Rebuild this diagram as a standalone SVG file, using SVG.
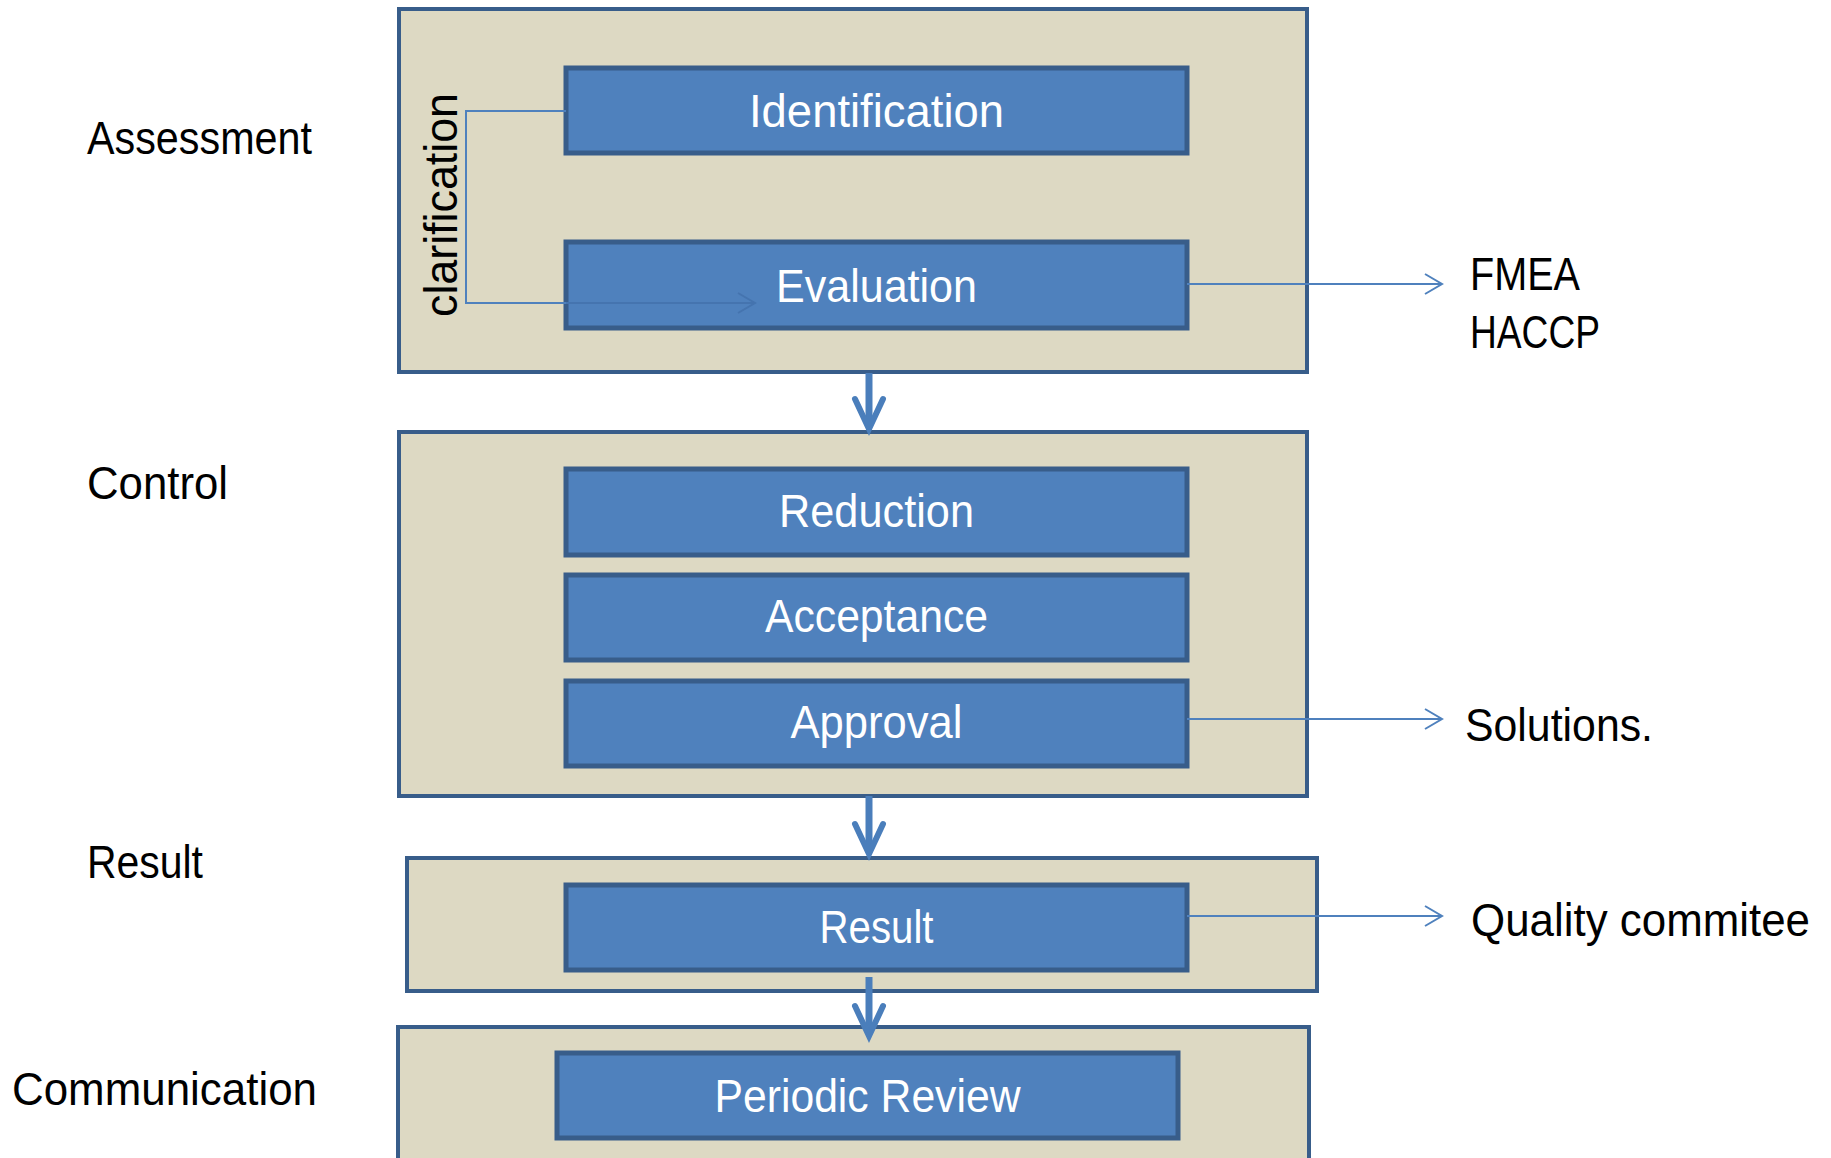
<svg xmlns="http://www.w3.org/2000/svg" width="1831" height="1158" viewBox="0 0 1831 1158">
<style>
.outer{fill:#DDD9C3;stroke:#385D8A;stroke-width:4}
.inner{fill:#4F81BD;stroke:#385D8A;stroke-width:5}
.lbl{font-family:"Liberation Sans",Arial,sans-serif;font-size:47px;fill:#000}
.in{font-family:"Liberation Sans",Arial,sans-serif;font-size:47px;fill:#fff;text-anchor:middle}
.thin{fill:none;stroke:#4F81BD;stroke-width:2}
.over{fill:none;stroke:#4574AF;stroke-width:2}
.thick{fill:none;stroke:#4A7EBB;stroke-width:7}
.head{fill:none;stroke:#4A7EBB;stroke-width:6;stroke-linecap:round;stroke-linejoin:miter}
</style>
<rect width="1831" height="1158" fill="#fff"/>
<g id="labels">
<text class="lbl" x="87" y="154" textLength="225" lengthAdjust="spacingAndGlyphs">Assessment</text>
<text class="lbl" x="87" y="499" textLength="141" lengthAdjust="spacingAndGlyphs">Control</text>
<text class="lbl" x="87" y="878" textLength="116" lengthAdjust="spacingAndGlyphs">Result</text>
<text class="lbl" x="12" y="1105" textLength="305" lengthAdjust="spacingAndGlyphs">Communication</text>
<text class="lbl" x="1470" y="290" textLength="110" lengthAdjust="spacingAndGlyphs">FMEA</text>
<text class="lbl" x="1470" y="348" textLength="130" lengthAdjust="spacingAndGlyphs">HACCP</text>
<text class="lbl" x="1465" y="741" textLength="188" lengthAdjust="spacingAndGlyphs">Solutions.</text>
<text class="lbl" x="1471" y="936" textLength="339" lengthAdjust="spacingAndGlyphs">Quality commitee</text>
</g>
<g id="assessment">
<rect class="outer" x="399" y="9" width="908" height="363"/>
<text transform="translate(457,205) rotate(-90)" font-family="Liberation Sans,Arial,sans-serif" font-size="46" fill="#000" text-anchor="middle" textLength="224" lengthAdjust="spacingAndGlyphs">clarification</text>
</g>
<g id="identification">
<rect class="inner" x="566" y="68" width="621" height="85"/>
<text class="in" x="876.5" y="127" textLength="255" lengthAdjust="spacingAndGlyphs">Identification</text>
</g>
<g id="evaluation">
<rect class="inner" x="566" y="242" width="621" height="86"/>
<text class="in" x="876.5" y="302" textLength="201" lengthAdjust="spacingAndGlyphs">Evaluation</text>
</g>
<g id="control">
<rect class="outer" x="399" y="432" width="908" height="364"/>
</g>
<g id="reduction">
<rect class="inner" x="566" y="469" width="621" height="86"/>
<text class="in" x="876.5" y="527" textLength="195" lengthAdjust="spacingAndGlyphs">Reduction</text>
</g>
<g id="acceptance">
<rect class="inner" x="566" y="575" width="621" height="85"/>
<text class="in" x="876.5" y="632" textLength="223" lengthAdjust="spacingAndGlyphs">Acceptance</text>
</g>
<g id="approval">
<rect class="inner" x="566" y="681" width="621" height="85"/>
<text class="in" x="876.5" y="738" textLength="172" lengthAdjust="spacingAndGlyphs">Approval</text>
</g>
<g id="result-stage">
<rect class="outer" x="407" y="858" width="910" height="133"/>
</g>
<g id="result">
<rect class="inner" x="566" y="885" width="621" height="85"/>
<text class="in" x="876.5" y="943" textLength="114" lengthAdjust="spacingAndGlyphs">Result</text>
</g>
<g id="communication">
<rect class="outer" x="398" y="1027" width="911" height="160"/>
</g>
<g id="periodic-review">
<rect class="inner" x="557" y="1053" width="621" height="85"/>
<text class="in" x="867.5" y="1112" textLength="306" lengthAdjust="spacingAndGlyphs">Periodic Review</text>
</g>
<g id="connectors">
<polyline class="thin" points="566,111 466,111 466,303 566,303"/>
<line class="over" x1="566" y1="303" x2="755" y2="303"/>
<polyline class="over" points="738,293 755,303 738,313"/>
<line class="thin" x1="1187" y1="284" x2="1442" y2="284"/>
<polyline class="thin" points="1425,274 1442,284 1425,294"/>
<line class="thin" x1="1187" y1="719" x2="1442" y2="719"/>
<polyline class="thin" points="1425,709 1442,719 1425,729"/>
<line class="thin" x1="1187" y1="916" x2="1442" y2="916"/>
<polyline class="thin" points="1425,906 1442,916 1425,926"/>
<line class="thick" x1="869" y1="373" x2="869" y2="426"/>
<path class="head" d="M855,399 L869,429 L883,399"/>
<line class="thick" x1="869" y1="796" x2="869" y2="851"/>
<path class="head" d="M855,824 L869,854 L883,824"/>
<line class="thick" x1="869" y1="977" x2="869" y2="1033"/>
<path class="head" d="M855,1006 L869,1036 L883,1006"/>
</g>
</svg>
